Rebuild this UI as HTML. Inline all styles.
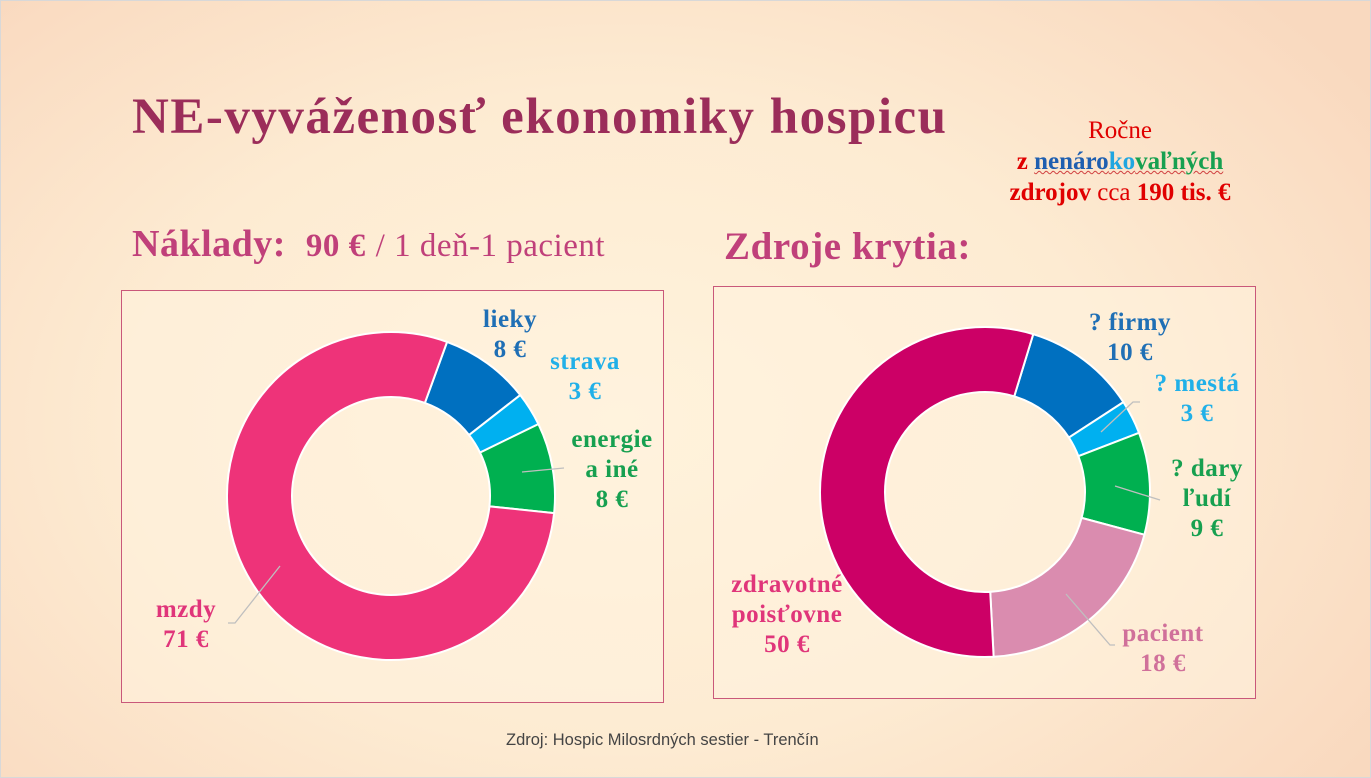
<!DOCTYPE html>
<html><head><meta charset="utf-8"><style>
html,body{margin:0;padding:0}
body{width:1371px;height:778px;overflow:hidden;position:relative;font-family:"Liberation Serif",serif;
background:radial-gradient(ellipse 900px 600px at 620px 420px,#fff3dc 0%,#fdebd2 55%,#f9d9bf 100%);}
.t{position:absolute;white-space:nowrap;font-weight:bold}
.box{position:absolute;border:1.5px solid #c9587a;background:rgba(255,243,222,0.55)}
</style></head><body>
<div style="position:absolute;left:0;top:0;width:1369px;height:776px;border:1px solid #d8d8d8"></div>
<div class="t" style="left:132px;top:88px;font-size:51px;letter-spacing:1.5px;color:#9b2d5a">NE-vyváženosť ekonomiky hospicu</div>
<div style="position:absolute;left:975px;top:115px;width:290px;text-align:center;font-size:25px;line-height:31px;color:#e00000">
<div>Ročne</div>
<div style="font-weight:bold">z <span style="text-decoration:underline wavy #d04040;text-decoration-thickness:1px"><span style="color:#1f5fb0">nenáro</span><span style="color:#21a6e0">ko</span><span style="color:#17a050">vaľných</span></span></div>
<div><b>zdrojov</b> cca <b>190 tis. €</b></div></div>
<div class="t" style="left:132px;top:222px;font-size:38px;letter-spacing:0.5px;color:#c0407a">Náklady:&nbsp; <span style="font-size:33px">90 €</span> <span style="font-weight:normal;font-size:33px">/ 1 deň-1 pacient</span></div>
<div class="t" style="left:724px;top:224px;font-size:39px;letter-spacing:0.6px;color:#c0407a">Zdroje krytia:</div>
<div class="box" style="left:121px;top:290px;width:541px;height:411px"></div>
<div class="box" style="left:713px;top:286px;width:541px;height:411px"></div>
<svg id="svg" width="1371" height="778" style="position:absolute;left:0;top:0"></svg>
<div class="t" style="left:506px;top:731px;font-weight:normal;color:#444;font-family:'Liberation Sans',sans-serif;font-size:16.5px">Zdroj: Hospic Milosrdných sestier - Trenčín</div>
<script>
const costLabels=["lieky","strava","energie a iné","mzdy"];
const costValues=[8,3,8,71];
const costColors=["#0070c0","#00b0f0","#00b050","#ee3379"];
const srcLabels=["? firmy","? mestá","? dary ľudí","pacient","zdravotné poisťovne"];
const srcValues=[10,3,9,18,50];
const srcColors=["#0070c0","#00b0f0","#00b050","#da8caf","#cc0066"];
const NS="http://www.w3.org/2000/svg";
const svg=document.getElementById('svg');
function pt(cx,cy,r,a){const rad=(a-90)*Math.PI/180;return [cx+r*Math.cos(rad),cy+r*Math.sin(rad)];}
function donut(cx,cy,ro,ri,start,vals,cols,labels,prefix){
 const tot=vals.reduce((a,b)=>a+b,0);let a=start;
 vals.forEach((v,i)=>{const sw=v/tot*360,a2=a+sw,lg=sw>180?1:0;
  const p1=pt(cx,cy,ro,a),p2=pt(cx,cy,ro,a2),p3=pt(cx,cy,ri,a2),p4=pt(cx,cy,ri,a);
  const p=document.createElementNS(NS,'path');
  p.setAttribute('d',`M${p1}A${ro},${ro} 0 ${lg} 1 ${p2}L${p3}A${ri},${ri} 0 ${lg} 0 ${p4}Z`);
  p.setAttribute('fill',cols[i]);p.setAttribute('stroke','#fff');p.setAttribute('stroke-width','2');
  
  
  svg.appendChild(p);a=a2;});
}
donut(391,496,164,99,20,costValues,costColors,costLabels,'cost');
donut(985,492,165,100,17,srcValues,srcColors,srcLabels,'source');
function line(pts){const l=document.createElementNS(NS,'polyline');l.setAttribute('points',pts);l.setAttribute('fill','none');l.setAttribute('stroke','#bfbfbf');l.setAttribute('stroke-width','1.3');


svg.appendChild(l);}
line("522,472 564,468");line("280,566 235,623 228,623");
line("1101,432 1133,402 1140,402");line("1115,486 1160,500");line("1066,594 1110,645 1115,645");
function lab(x,y,lines,color,name){const t=document.createElementNS(NS,'text');t.setAttribute('x',x);t.setAttribute('y',y);t.setAttribute('fill',color);t.setAttribute('text-anchor','middle');t.setAttribute('font-family','Liberation Serif, serif');t.setAttribute('font-weight','bold');t.setAttribute('font-size','25');t.setAttribute('letter-spacing','0.5');


lines.forEach((s,i)=>{const ts=document.createElementNS(NS,'tspan');ts.setAttribute('x',x);ts.setAttribute('dy',i?30:0);ts.textContent=s;t.appendChild(ts);});svg.appendChild(t);}
lab(510,327,["lieky",costValues[0]+" €"],"#1f6fb5","label-lieky");
lab(585,369,["strava",costValues[1]+" €"],"#21b0e8","label-strava");
lab(612,447,["energie","a iné",costValues[2]+" €"],"#17a050","label-energie");
lab(186,617,["mzdy",costValues[3]+" €"],"#e0357a","label-mzdy");
lab(1130,330,["? firmy",srcValues[0]+" €"],"#1f6fb5","label-firmy");
lab(1197,391,["? mestá",srcValues[1]+" €"],"#21b0e8","label-mesta");
lab(1207,476,["? dary","ľudí",srcValues[2]+" €"],"#17a050","label-dary");
lab(1163,641,["pacient",srcValues[3]+" €"],"#d0709a","label-pacient");
lab(787,592,["zdravotné","poisťovne",srcValues[4]+" €"],"#e0357a","label-poistovne");
</script>
</body></html>
